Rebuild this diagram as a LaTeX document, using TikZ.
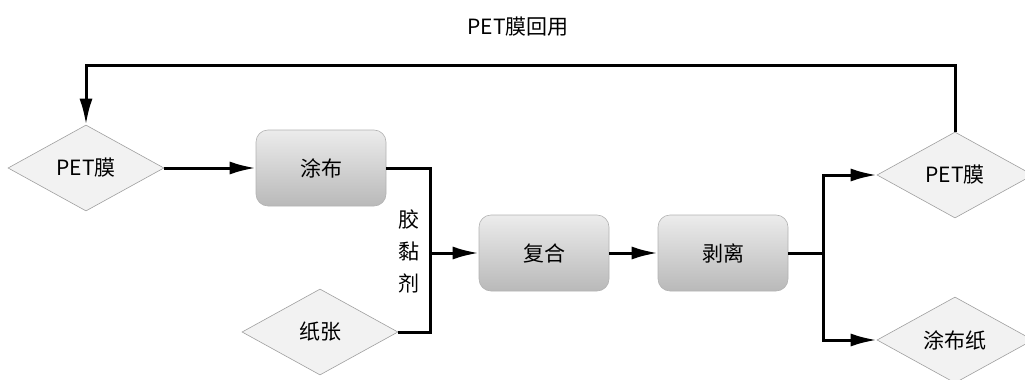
\documentclass[tikz,border=0pt]{standalone}
\usepackage{fontspec}
\setmainfont{Noto Sans CJK SC}
\usetikzlibrary{shapes.geometric,arrows.meta}
\begin{document}
\begin{tikzpicture}[x=1pt,y=-1pt,
  every node/.style={font=\fontsize{21}{24}\selectfont, text=black},
  procbox/.style={rectangle, rounded corners=12pt, minimum width=130pt, minimum height=76pt,
    draw=gray!60, line width=0.6pt, top color=gray!15, bottom color=gray!55, middle color=gray!35},
  matbox/.style={diamond, minimum width=156pt, minimum height=86pt, inner sep=0pt,
    draw=gray!75, line width=0.6pt, fill=gray!10},
  conn/.style={line width=3pt, draw=black},
  arr/.style={conn, -{Latex[length=26pt,width=13pt]}}]
\useasboundingbox (0,0) rectangle (1025,380);
\clip (0,0) rectangle (1025,380);
\node[matbox] (pet1) at (86,168) {PET膜};
\node[procbox] (tubu) at (321,168) {涂布};
\node[matbox] (zhi) at (320,332) {纸张};
\node[procbox] (fuhe) at (544,253) {复合};
\node[procbox] (boli) at (723,253) {剥离};
\node[matbox] (pet2) at (955,175) {PET膜};
\node[matbox] (tbz) at (955,340) {涂布纸};
\node[align=center, inner sep=0pt, font=\fontsize{21}{32}\selectfont] (jnj) at (409,251) {胶\\黏\\剂};
\node (label) at (518,27) {PET膜回用};
\coordinate (j) at (430,253);
\coordinate (k) at (823,253);
\coordinate (fb) at (86,65);
\draw[arr] (pet1.east) -- (tubu.west);
\draw[conn] (tubu.east) -| (j);
\draw[conn] (zhi.east) -| (j);
\draw[arr] (j) -- (fuhe.west);
\draw[arr] (fuhe.east) -- (boli.west);
\draw[conn] (boli.east) -- (k);
\draw[arr] (k) |- (pet2.west);
\draw[arr] (k) |- (tbz.west);
\draw[arr] (pet2.north) |- (fb) -- (pet1.north);
\end{tikzpicture}
\end{document}
